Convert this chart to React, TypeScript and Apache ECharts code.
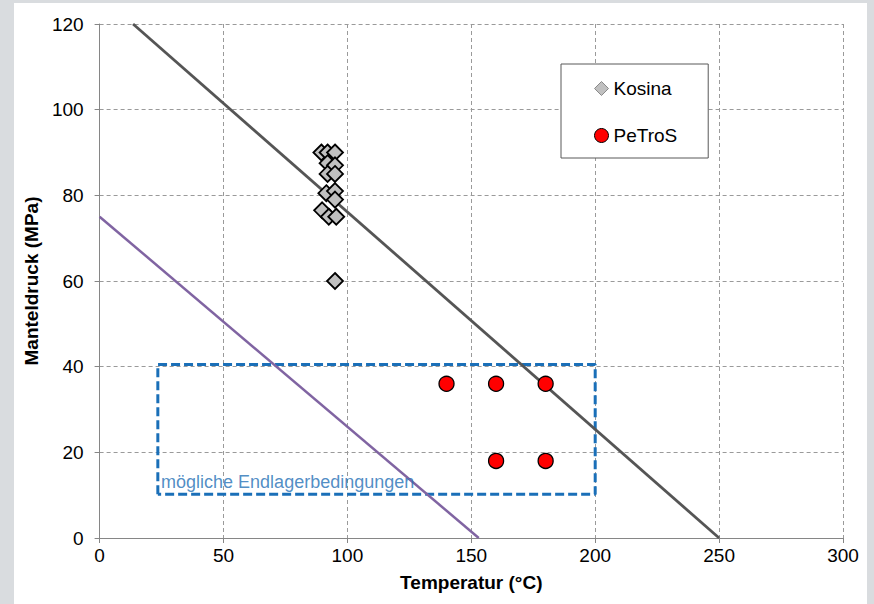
import React, { useEffect, useRef } from "react";
import * as echarts from "echarts";

const xTicks = [0, 50, 100, 150, 200, 250, 300];
const yTicks = [0, 20, 40, 60, 80, 100, 120];

const kosinaTemp = [89.5, 92, 95, 92, 95, 92, 95, 91.5, 95, 95, 89.8, 92.5, 95.5, 95];
const kosinaPress = [90, 90, 90, 87.5, 87, 85, 85, 80.5, 81, 79, 76.5, 75, 75, 60];

const petrosTemp = [140, 160, 180, 160, 180];
const petrosPress = [36, 36, 36, 18, 18];

const upperLineTemp = [13.5, 250];
const upperLinePress = [120, 0];

const lowerLineTemp = [0, 153];
const lowerLinePress = [75, 0];

const boxTemp = [23.5, 23.5, 200, 200, 23.5];
const boxPress = [10.2, 40.5, 40.5, 10.2, 10.2];

const boxLabel = "mögliche Endlagerbedingungen";
const boxLabelPos = [24.8, 13.1];

const zip = (a: number[], b: number[]) => a.map((v, i) => [v, b[i]]);

const FONT = "'Liberation Sans', Arial, sans-serif";

export default function App() {
  const ref = useRef<HTMLDivElement>(null);

  useEffect(() => {
    if (!ref.current) return;
    const chart = echarts.init(ref.current, undefined, { renderer: "svg" });
    const axisLine = { show: true, lineStyle: { color: "#868686", width: 1 } };
    const splitLine = { show: true, lineStyle: { color: "#9a9a9a", type: [4, 3] as any, width: 1 } };
    chart.setOption({
      animation: false,
      backgroundColor: "#ffffff",
      textStyle: { fontFamily: FONT },
      grid: { left: 79, right: 24, top: 21, bottom: 66, containLabel: false },
      legend: {
        orient: "vertical",
        left: 547,
        top: 61,
        data: [
          { name: "Kosina", icon: "diamond", itemStyle: { color: "#c0c0c0", borderColor: "#8a8a8a", borderWidth: 1 } },
          { name: "PeTroS", icon: "circle", itemStyle: { color: "#ff0000", borderColor: "#000", borderWidth: 1 } },
        ],
        itemWidth: 14,
        itemHeight: 14,
        itemGap: 28,
        padding: [15, 31, 13, 33],
        borderColor: "#595959",
        borderWidth: 1,
        backgroundColor: "#fff",
        textStyle: { fontSize: 19, color: "#000", fontFamily: FONT },
      },
      xAxis: {
        type: "value",
        min: 0,
        max: 300,
        interval: 50,
        name: "Temperatur (°C)",
        nameLocation: "middle",
        nameGap: 35,
        nameTextStyle: { fontSize: 19, fontWeight: "bold", color: "#000", fontFamily: FONT },
        axisLine,
        axisTick: { show: true, length: 5, lineStyle: { color: "#868686" } },
        axisLabel: {
          fontSize: 19,
          color: "#000",
          margin: 8,
          fontFamily: FONT,
          formatter: (v: number) => (xTicks.includes(v) ? String(v) : ""),
        },
        splitLine,
      },
      yAxis: {
        type: "value",
        min: 0,
        max: 120,
        interval: 20,
        name: "Manteldruck (MPa)",
        nameLocation: "middle",
        nameGap: 53,
        nameRotate: 90,
        nameTextStyle: { fontSize: 19, fontWeight: "bold", color: "#000", fontFamily: FONT },
        axisLine,
        axisTick: { show: true, length: 5, lineStyle: { color: "#868686" } },
        axisLabel: {
          fontSize: 19,
          color: "#000",
          margin: 16,
          fontFamily: FONT,
          formatter: (v: number) => (yTicks.includes(v) ? String(v) : ""),
        },
        splitLine,
      },
      series: [
        {
          name: "box",
          type: "line",
          data: zip(boxTemp, boxPress),
          symbol: "none",
          lineStyle: { color: "#1a6fb8", width: 3, type: [9, 4] as any },
          z: 2,
        },
        {
          name: "boxLabel",
          type: "scatter",
          data: [boxLabelPos],
          symbolSize: 0,
          label: {
            show: true,
            position: "right",
            distance: 0,
            formatter: boxLabel,
            fontSize: 18,
            color: "#2470b6",
            fontFamily: FONT,
          },
          z: 3,
        },
        {
          name: "lower",
          type: "line",
          data: zip(lowerLineTemp, lowerLinePress),
          symbol: "none",
          lineStyle: { color: "#8064a2", width: 2.5 },
          z: 3,
        },
        {
          name: "upper",
          type: "line",
          data: zip(upperLineTemp, upperLinePress),
          symbol: "none",
          lineStyle: { color: "#555555", width: 2.8 },
          z: 3,
        },
        {
          name: "Kosina",
          type: "scatter",
          data: zip(kosinaTemp, kosinaPress),
          symbol: "diamond",
          symbolSize: 16,
          itemStyle: { color: "#c0c0c0", borderColor: "#000", borderWidth: 1.8, opacity: 1 },
          z: 5,
        },
        {
          name: "PeTroS",
          type: "scatter",
          data: zip(petrosTemp, petrosPress),
          symbol: "circle",
          symbolSize: 15,
          itemStyle: { color: "#ff0000", borderColor: "#000", borderWidth: 1.3, opacity: 1 },
          z: 5,
        },
      ],
    });
    return () => chart.dispose();
  }, []);

  return (
    <div style={{ position: "fixed", left: 0, top: 0, width: 874, height: 604, background: "#d9dcdf" }}>
      <div
        ref={ref}
        style={{ position: "absolute", left: 14, top: 3, width: 853, height: 601, background: "#fff" }}
      />
    </div>
  );
}
